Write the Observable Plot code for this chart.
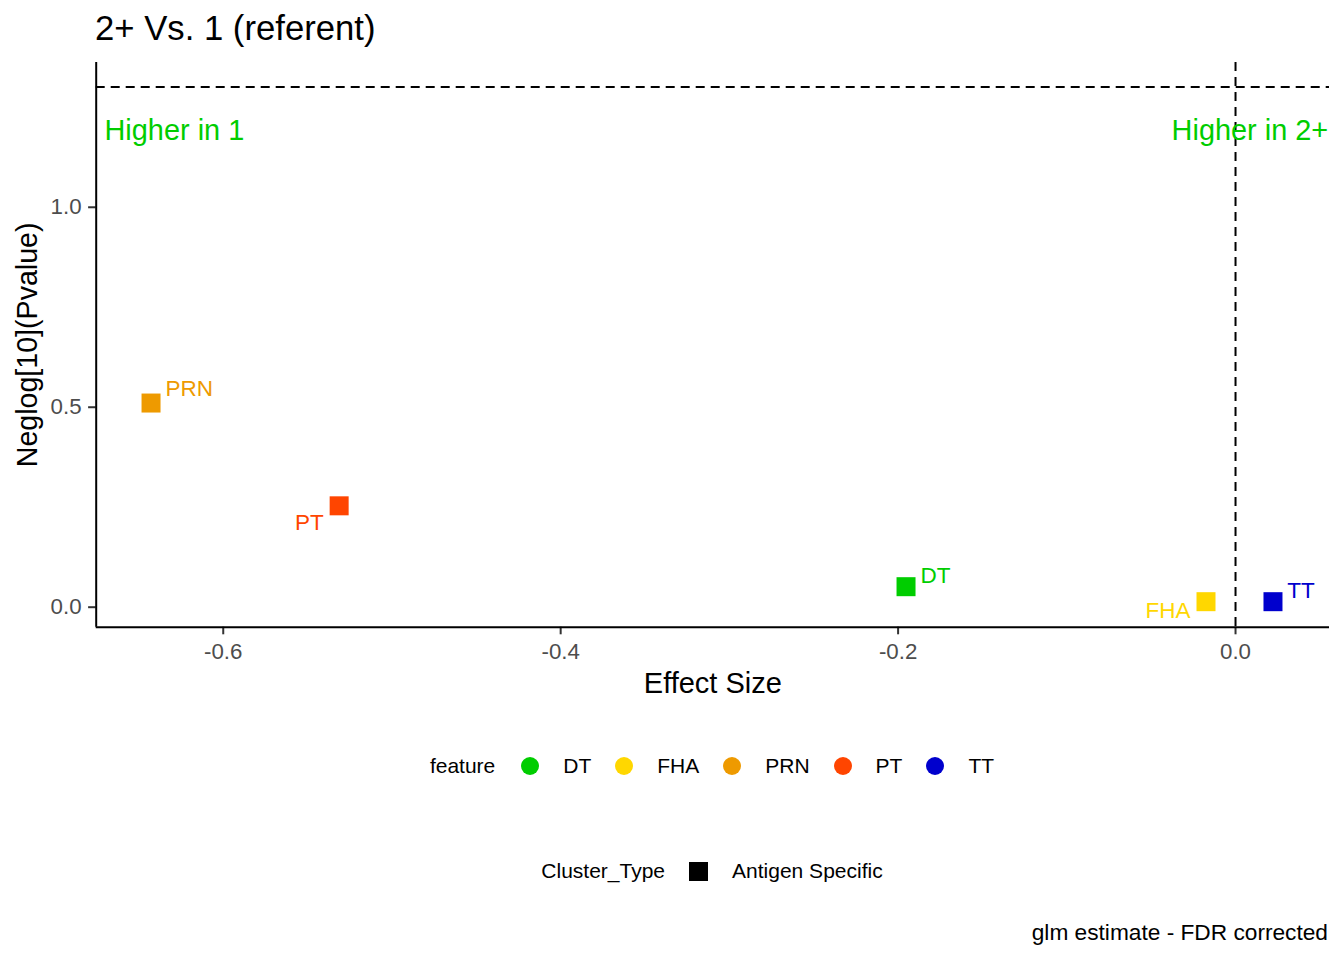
<!DOCTYPE html>
<html>
<head>
<meta charset="utf-8">
<script src="https://cdn.jsdelivr.net/npm/d3@7"></script>
<script src="https://cdn.jsdelivr.net/npm/@observablehq/plot@0.6"></script>
<style>
  html, body { margin: 0; padding: 0; background: #fff; }
  body { width: 1344px; height: 960px; overflow: hidden; position: relative;
         font-family: "Liberation Sans", Arial, sans-serif; color: #000; }
  #title { position: absolute; left: 95px; top: 11px; font-size: 34.7px; line-height: 1; white-space: nowrap; }
  #chart { position: absolute; left: 0; top: 56px; }
  .legend { position: absolute; left: 95px; width: 1234px; height: 30px; display: flex;
            justify-content: center; align-items: center; font-size: 21px; white-space: nowrap; }
  .legend .key-circle { width: 18px; height: 18px; border-radius: 50%; flex: none; }
  .legend .key-square { width: 19px; height: 19px; background: #000; flex: none; }
  #caption { position: absolute; right: 16px; top: 921px; font-size: 22.7px; line-height: 1; white-space: nowrap; }
</style>
</head>
<body>
<div id="title"></div>
<div id="chart"></div>
<div id="legend1" class="legend" style="top:751px"></div>
<div id="legend2" class="legend" style="top:856px"></div>
<div id="caption"></div>
<script>
// ---- data ----
const titleText = "2+ Vs. 1 (referent)";
const captionText = "glm estimate - FDR corrected";
const xLabel = "Effect Size";
const yLabel = "Neglog[10](Pvalue)";
const features = ["DT", "FHA", "PRN", "PT", "TT"];
const effectSize = [-0.1953, -0.0175, -0.6428, -0.5313, 0.0222];
const neglogP = [0.0513, 0.0138, 0.5105, 0.2535, 0.0138];
const clusterType = ["Antigen Specific", "Antigen Specific", "Antigen Specific", "Antigen Specific", "Antigen Specific"];
const featureColors = ["#00CD00", "#FFD700", "#EE9A00", "#FF4500", "#0000CD"];
const xTicks = [-0.6, -0.4, -0.2, 0.0];
const yTicks = [0.0, 0.5, 1.0];
const sigLine = -Math.log10(0.05);
const leftNote = "Higher in 1";
const rightNote = "Higher in 2+";
const noteY = 1.2;

// ---- label placement (repel offsets, px) ----
const labelDx = [14.5, -15.5, 14.5, -15.5, 14.2];
const labelDy = [-3.5, 16.5, -7.5, 23.7, -3.9];
const labelAnchor = ["start", "end", "start", "end", "start"];

const xDomain = [-0.6753, 0.0557];
const yDomain = [-0.05, 1.362];

const rows = features.map((f, i) => ({feature: f, x: effectSize[i], y: neglogP[i], type: clusterType[i]}));

const labelMarks = rows.map((r, i) => Plot.text([r], {
  x: "x", y: "y", text: "feature", fill: "feature",
  textAnchor: labelAnchor[i], lineAnchor: "bottom",
  dx: labelDx[i], dy: labelDy[i], fontSize: 22.5
}));

const fmt = d => d.toFixed(1);

const chart = Plot.plot({
  width: 1344,
  height: 654,
  marginLeft: 95.7,
  marginRight: 15,
  marginTop: 6,
  marginBottom: 83.3,
  style: {fontFamily: "Liberation Sans, Arial, sans-serif", background: "#fff", color: "#000"},
  x: {domain: xDomain},
  y: {domain: yDomain},
  color: {domain: features, range: featureColors},
  marks: [
    Plot.ruleY([sigLine], {stroke: "#000", strokeWidth: 2, strokeDasharray: "9,6"}),
    Plot.ruleX([0], {stroke: "#000", strokeWidth: 2, strokeDasharray: "9,6"}),
    Plot.text([leftNote], {y: noteY, frameAnchor: "left", text: d => d, textAnchor: "start", lineAnchor: "bottom",
      dx: 8.3, dy: 12.6, fill: "#00CD00", fontSize: 28.9}),
    Plot.text([rightNote], {y: noteY, frameAnchor: "right", text: d => d, textAnchor: "end", lineAnchor: "bottom",
      dx: -1.3, dy: 12.6, fill: "#00CD00", fontSize: 28.9}),
    Plot.dot(rows, {x: "x", y: "y", fill: "feature", symbol: "square", r: 10.72, stroke: null}),
    ...labelMarks,
    Plot.axisX({ticks: xTicks, tickFormat: fmt, tickSize: 7.6, tickPadding: 8, fontSize: 22.3,
      stroke: "#333", fill: "#4D4D4D", strokeWidth: 2, label: null}),
    Plot.axisY({ticks: yTicks, tickFormat: fmt, tickSize: 7.6, tickPadding: 7, fontSize: 22.3,
      stroke: "#333", fill: "#4D4D4D", strokeWidth: 2, label: null}),
    Plot.ruleX([xDomain[0]], {stroke: "#000", strokeWidth: 2}),
    Plot.ruleY([yDomain[0]], {stroke: "#000", strokeWidth: 2}),
    Plot.text([xLabel], {frameAnchor: "bottom", text: d => d, textAnchor: "middle", lineAnchor: "bottom", dy: 66, fontSize: 29, fill: "#000"}),
    Plot.text([yLabel], {frameAnchor: "left", text: d => d, textAnchor: "middle", lineAnchor: "bottom", rotate: -90, dx: -59, fontSize: 28.6, fill: "#000"})
  ]
});
document.getElementById("chart").appendChild(chart);

document.getElementById("title").textContent = titleText;
document.getElementById("caption").textContent = captionText;

// legend 1: feature colours
const l1 = document.getElementById("legend1");
const t1 = document.createElement("span");
t1.textContent = "feature";
t1.style.marginRight = "26px";
l1.appendChild(t1);
features.forEach((f, i) => {
  const k = document.createElement("span");
  k.className = "key-circle";
  k.style.background = featureColors[i];
  k.style.marginRight = "24px";
  l1.appendChild(k);
  const s = document.createElement("span");
  s.textContent = f;
  if (i < features.length - 1) s.style.marginRight = "24px";
  l1.appendChild(s);
});

// legend 2: cluster type shape
const l2 = document.getElementById("legend2");
const t2 = document.createElement("span");
t2.textContent = "Cluster_Type";
t2.style.marginRight = "24px";
l2.appendChild(t2);
const sq = document.createElement("span");
sq.className = "key-square";
sq.style.marginRight = "24px";
l2.appendChild(sq);
const s2 = document.createElement("span");
s2.textContent = Array.from(new Set(clusterType))[0];
l2.appendChild(s2);
</script>
</body>
</html>
